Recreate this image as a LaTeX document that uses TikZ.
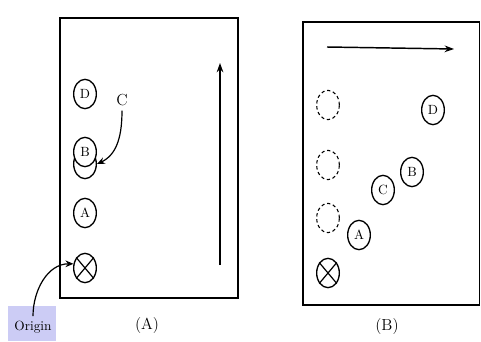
\documentclass[tikz,border=0pt]{standalone}
\usepackage{tikz}
\usetikzlibrary{arrows.meta,shapes.geometric}
\definecolor{tagblue}{RGB}{204,204,245}

\tikzset{
  spot/.style={draw, ellipse, line width=1pt, inner sep=0pt,
    minimum width=17pt, minimum height=22pt, font=\normalsize},
  ghost/.style={spot, line width=0.8pt, dash pattern=on 2.5pt off 2pt},
  panel/.style={line width=1.2pt},
  move/.style={-{Stealth[length=7pt,width=5pt]}, line width=1.1pt},
  pointer/.style={-{Stealth[length=6pt,width=5pt]}, line width=0.9pt}
}

\begin{document}
\begin{tikzpicture}[x=0.75pt,y=-0.75pt]
  \useasboundingbox (0,0) rectangle (481,342);

  % Rahmen
  \draw[panel] (60,18) rectangle (238,298);
  \draw[panel] (303,22) rectangle (479.5,305);
  \node[font=\large] (capA) at (147,326) {(A)};
  \node[font=\large] (capB) at (387,327) {(B)};

  % Teilbild (A)
  \node[spot] (aD) at (85,94) {D};
  \node[spot] (aC) at (85,164) {};
  \node[spot, fill=white] (aB) at (85,152) {B};
  \node[spot] (aA) at (85,213) {A};
  \node[spot] (aX) at (85,268) {};
  \draw[line width=0.9pt] (aX.50) -- (aX.230) (aX.130) -- (aX.310);

  \node[font=\large] (lblC) at (122,100) {C};
  \draw[pointer] (lblC.south) to[out=-90, in=25] (aC.east);

  \fill[tagblue] (8,306) rectangle (56,341);
  \node (orig) at (33,327) {Origin};
  \draw[pointer] (orig.north) to[out=90, in=180] (aX.160);

  \coordinate (upS) at (220,265);
  \coordinate (upE) at (220,63);
  \draw[move] (upS) -- (upE);

  % Teilbild (B)
  \foreach \n/\y in {g1/105, g2/165, g3/218} {
    \node[ghost] (\n) at (328,\y) {};
  }
  \node[spot] (bX) at (328,273) {};
  \draw[line width=0.9pt] (bX.50) -- (bX.230) (bX.130) -- (bX.310);

  \node[spot] (bA) at (359,235) {A};
  \node[spot] (bC) at (383,190) {C};
  \node[spot] (bB) at (412,172) {B};
  \node[spot] (bD) at (433,110) {D};

  \coordinate (rtS) at (327,47);
  \coordinate (rtE) at (454,49);
  \draw[move] (rtS) -- (rtE);
\end{tikzpicture}
\end{document}
